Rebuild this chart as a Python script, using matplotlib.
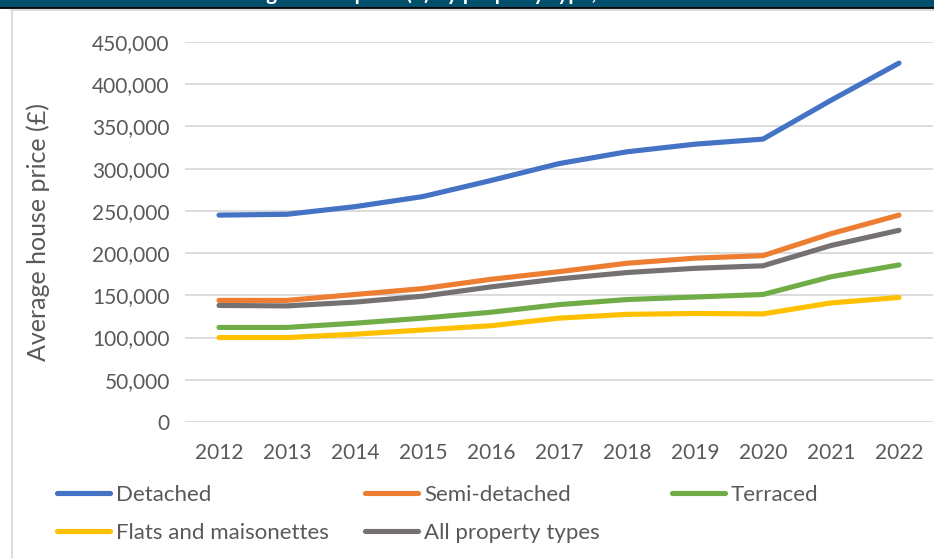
import matplotlib
matplotlib.use("Agg")
import matplotlib.pyplot as plt
from matplotlib.lines import Line2D
from matplotlib.patches import Rectangle
from matplotlib.ticker import FuncFormatter, MultipleLocator

years = ["2012", "2013", "2014", "2015", "2016", "2017", "2018", "2019", "2020", "2021", "2022"]
detached = [245000, 246000, 255000, 267000, 286000, 306000, 320000, 329000, 335000, 381000, 425000]
semi_detached = [144000, 144000, 151000, 158000, 169000, 178000, 188000, 194000, 197000, 223000, 245000]
terraced = [112000, 112000, 117000, 123000, 130000, 139000, 145000, 148000, 151000, 172000, 186000]
flats = [100000, 100000, 104000, 109000, 114000, 123000, 127500, 128500, 128000, 141000, 147500]
all_types = [138000, 137500, 142000, 149000, 160000, 169500, 177000, 182000, 185000, 209000, 227000]

series = [
    ("Detached", detached, "#4472C4"),
    ("Semi-detached", semi_detached, "#ED7D31"),
    ("Terraced", terraced, "#70AD47"),
    ("Flats and maisonettes", flats, "#FFC000"),
    ("All property types", all_types, "#757171"),
]

plt.rcParams['font.family'] = ['Lato', 'DejaVu Sans']
W, H = 934, 558
fig = plt.figure(figsize=(W / 100, H / 100), dpi=100)
fig.patch.set_facecolor("white")

def fx(px):
    return px / W

def fy(py):
    return 1 - py / H

# title bar
fig.patches.append(Rectangle((0, fy(8)), 1, 8 / H, transform=fig.transFigure,
                             facecolor="#024F6C", edgecolor="none", zorder=0))
fig.lines.append(Line2D([0, 1], [fy(8), fy(8)], transform=fig.transFigure, color="black", lw=1.3))
fig.text(0.503, fy(0.5), "Average house price (£) by property type, 2012 to 2022", color="white",
         fontsize=15, fontweight="bold", ha="center", va="baseline")
# chart area border
fig.lines.append(Line2D([fx(11), 1], [fy(9.7), fy(9.7)], transform=fig.transFigure, color="#D9D9D9", lw=1.3))
fig.lines.append(Line2D([fx(11.5), fx(11.5)], [fy(9.7), 0], transform=fig.transFigure, color="#D9D9D9", lw=1.3))

ax = fig.add_axes([fx(185), fy(422), fx(933) - fx(185), (422 - 42) / H])
ax.set_facecolor("none")
x = list(range(len(years)))
handles = {}
for name, vals, col in series:
    ln, = ax.plot(x, vals, color=col, lw=3.7, solid_capstyle="round", solid_joinstyle="round", label=name)
    handles[name] = ln

ax.set_xlim(-0.5, len(years) - 0.5)
ax.set_ylim(0, 450000)
ax.yaxis.set_major_locator(MultipleLocator(50000))
ax.yaxis.set_major_formatter(FuncFormatter(lambda v, p: f"{int(v):,}"))
ax.set_xticks(x)
ax.set_xticklabels(years)
ax.grid(axis="y", color="#D9D9D9", lw=1.3)
ax.set_axisbelow(True)
for s in ax.spines.values():
    s.set_visible(False)
ax.tick_params(axis="both", length=0, labelsize=15, labelcolor="#595959")
ax.tick_params(axis="y", pad=11)
ax.tick_params(axis="x", pad=15)
ax.set_ylabel("Average house price (£)", fontsize=18, color="#595959")
ax.yaxis.set_label_coords((50 - 185) / 748, 0.5)

cols = [
    (57, ["Detached", "Flats and maisonettes"]),
    (365, ["Semi-detached", "All property types"]),
    (672, ["Terraced"]),
]
for xpx, names in cols:
    leg = fig.legend([handles[n] for n in names], names, loc="upper left",
                     bbox_to_anchor=(fx(xpx), fy(485)), frameon=False, fontsize=16,
                     handlelength=2.4, handletextpad=0.25, borderpad=0, borderaxespad=0,
                     labelspacing=0.8, labelcolor="#595959")

fig.savefig("out.png", dpi=100, facecolor="white")
